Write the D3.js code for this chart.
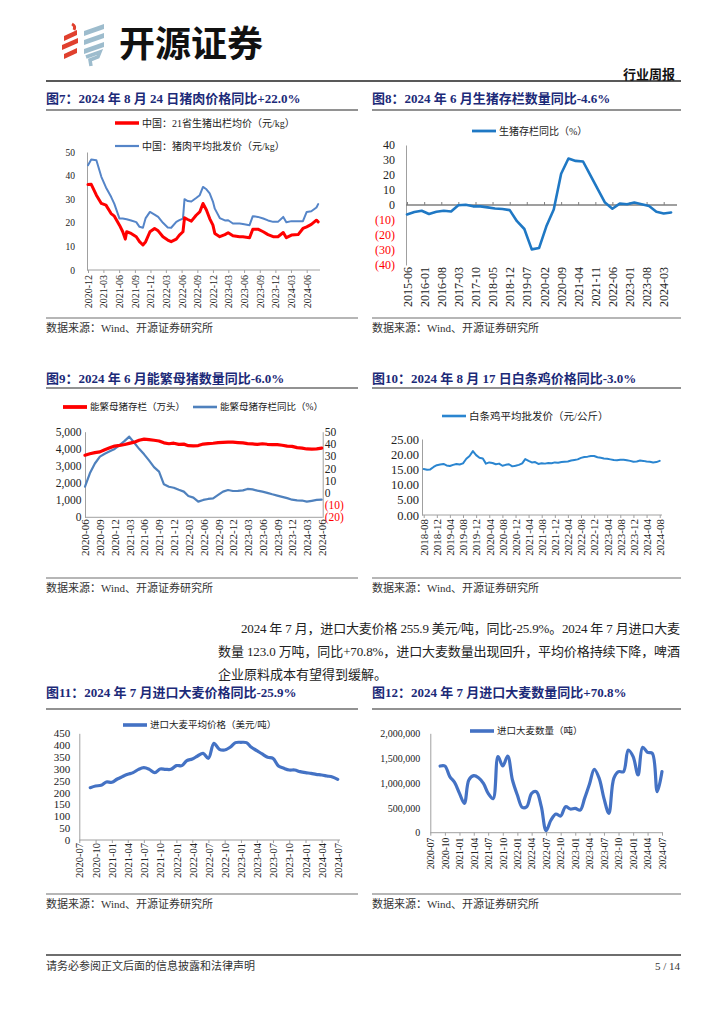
<!DOCTYPE html>
<html>
<head>
<meta charset="utf-8">
<script src="https://cdn.jsdelivr.net/npm/d3@7"></script>
<style>
  body { margin: 0; background: #fff; }
</style>
</head>
<body>
<script>
var parseMonth = d3.timeParse('%Y-%m');
var parseDay = d3.timeParse('%Y-%m-%d');
var fmtMonth = d3.timeFormat('%Y-%m');
var monthRange = function(a, b, step) {
  return d3.timeMonth.range(parseMonth(a), d3.timeMonth.offset(parseMonth(b), 1), step || 1);
};

// ---- 图7 猪肉价格 (元/kg) ----
var porkDates = ['2020-12-01','2020-12-20','2021-01-19','2021-02-17','2021-03-16','2021-04-15','2021-05-04',
  '2021-06-03','2021-06-22','2021-07-07','2021-07-15','2021-08-10','2021-09-09','2021-09-28','2021-10-18',
  '2021-11-03','2021-11-28','2021-12-25','2022-01-15','2022-02-12','2022-03-12','2022-04-01','2022-05-01',
  '2022-05-19','2022-06-09','2022-06-18','2022-07-07','2022-07-28','2022-08-25','2022-09-15','2022-10-04',
  '2022-10-24','2022-11-12','2022-12-01','2022-12-12','2023-01-10','2023-02-09','2023-02-28','2023-03-28',
  '2023-05-06','2023-05-25','2023-07-03','2023-07-22','2023-08-21','2023-09-21','2023-10-19','2023-11-18',
  '2023-12-16','2024-01-16','2024-02-03','2024-03-04','2024-04-12','2024-05-10','2024-06-01','2024-06-28',
  '2024-07-28','2024-08-07'];
var hogPrice = [36.2,36.3,31.7,28.2,27.5,23.9,22.8,19,16.2,13.1,16.2,15.5,14.1,12,10.6,12,16.2,17.6,16.6,14.1,
  12.7,12,13.1,14.8,16.2,22.1,21.4,20.7,23.2,24.6,28.2,25.4,21.8,19,15.5,14.1,15,15.8,14.5,14.1,14.1,13.7,17.3,
  17.3,16.2,15,14.1,14.1,15.9,13.7,14.8,15,17.6,18.3,19.3,21.1,20.4];
var porkWholesale = [44.4,46.8,46.5,39.5,35,31,28,21.8,21.8,21.6,21.5,21,20.3,18.3,17.9,22,24.6,23.5,22.5,20,
  18,17.9,20.4,21.1,21.8,30,29.2,29,30.5,31.7,35.2,34.2,32.5,29,26,22,21,21.1,19.7,19.7,19.5,19,22.8,22.5,21.8,
  21,20.4,20.4,22.5,20.2,20.7,20.7,20.7,24.6,24.9,26.5,27.9];
var porkTicks = monthRange('2020-12', '2024-06', 3);
var porkYTicks = [0, 10, 20, 30, 40, 50];

// ---- 图8 生猪存栏同比 (%) ----
var hogMonths = monthRange('2015-06', '2024-06', 3);
var hogYoy = [-6.3,-4.7,-3.8,-6,-4.5,-3.8,-4.3,-0.2,0.2,-0.9,-0.9,-1.6,-2.3,-2.7,-3.4,-10.8,-16,-29.6,-28.7,
  -14.2,-3,20.8,31,29.4,29,19.7,10.6,1.6,-2.5,0.9,0.5,1.6,0.5,-0.7,-4.5,-5.7,-5];
var hogTicks = monthRange('2015-06', '2024-03', 7);
var hogYTicks = [-40, -30, -20, -10, 0, 10, 20, 30, 40];

// ---- 图9 能繁母猪 ----
var sowMonths = monthRange('2020-06', '2024-06');
var sowStock = [3629,3715,3777,3822,3950,4060,4161,
  4200,4250,4318,4390,4500,4564,4540,4500,4459,4348,4296,4329,
  4261,4274,4185,4177,4192,4277,4298,4324,4362,4379,4394,4390,
  4367,4343,4305,4284,4258,4296,4265,4241,4240,4210,4158,4142,
  4067,4042,3992,3986,3996,4038];
var sowYoy = [5,16,24,29.6,32,34,35.9,
  39,42.5,46,41,36,31.5,26.5,21,17.3,7,5,4.2,
  2.5,1,-2.6,-3.9,-7.2,-5.8,-5,-4.5,-1.7,1,2.3,1.5,
  1.6,2,3.2,2.8,1.8,1,0,-1.2,-2.3,-3.3,-4.3,-5.6,
  -6.1,-6.3,-7.2,-6.5,-5.8,-5.6];
var sowTicks = monthRange('2020-06', '2024-06', 3);
var sowYTicks = [0, 1000, 2000, 3000, 4000, 5000];
var sowRTicks = [-20, -10, 0, 10, 20, 30, 40, 50];

// ---- 图10 白条鸡平均批发价 (元/公斤) ----
var chickenMonths = monthRange('2018-08', '2024-08');
var chickenPrice = [15.1,14.9,15.0,15.8,16.4,
  16.6,16.8,16.3,16.1,16.5,16.8,16.6,17.0,18.5,19.4,21.0,19.7,
  18.8,18.6,16.9,17.3,17.1,16.7,16.9,16.2,16.5,16.7,16.0,16.2,
  16.5,17.0,18.4,17.8,17.3,17.4,16.8,17.0,16.9,17.1,17.0,17.3,
  17.2,17.4,17.5,17.6,17.9,18.1,18.3,18.8,19.1,19.2,19.4,19.4,
  19.0,18.8,18.6,18.5,18.3,18.1,18.0,18.2,18.2,18.0,17.8,17.5,
  17.6,17.9,17.8,17.6,17.5,17.3,17.4,17.8];
var chickenTicks = monthRange('2018-08', '2024-08', 4);
var chickenYTicks = [0, 5, 10, 15, 20, 25];

// ---- 图11/12 进口大麦 ----
var barleyMonths = monthRange('2020-09', '2024-07');
var barleyPrice = [220.8,227.8,230.6,244.7,
  243.3,257.3,267.2,277,284,298,305,298,284,299.5,298,298,
  313.6,313.6,334.7,341.7,354.4,365.6,344.5,407.8,382.5,379.7,391,410.6,
  412,410.6,391,376.9,362.8,348.8,344.5,312.2,302.3,295.3,295.3,288.3,
  284,281.3,277,274.2,270,265.8,255.9];
var barleyVolume = [1342000,1342000,1127000,1013000,
  792000,590000,1060000,1148000,1107000,993000,792000,684000,1530000,1342000,1543000,1060000,
  758000,510000,523000,792000,825000,523000,40000,255000,376000,335000,523000,476000,
  490000,456000,691000,980000,1275000,1094000,691000,389000,1094000,1228000,1228000,1664000,
  1530000,1161000,1718000,1617000,1597000,825000,1230000];
var barleyTicks = monthRange('2020-07', '2024-07', 3);
var barleyPriceTicks = [0, 50, 100, 150, 200, 250, 300, 350, 400, 450];
var barleyVolTicks = [0, 500000, 1000000, 1500000, 2000000];

// ---- page ----
var FONT = "'Liberation Serif','Noto Sans CJK SC',serif";
var AXIS = '#a0a0a0';
var TITLE = '#1c2a78';

var svg = d3.select('body').append('svg')
  .attr('width', 724).attr('height', 1024)
  .attr('font-family', FONT);

var hline = function(x1, x2, y, color, w) {
  svg.append('line').attr('x1', x1).attr('x2', x2).attr('y1', y).attr('y2', y)
    .attr('stroke', color).attr('stroke-width', w);
};

var text = function(x, y, str, size, opts) {
  opts = opts || {};
  return svg.append('text').attr('x', x).attr('y', y).attr('dy', '0.35em')
    .attr('font-size', size)
    .attr('font-weight', opts.bold ? 'bold' : null)
    .attr('fill', opts.fill || '#222')
    .attr('text-anchor', opts.anchor || 'start')
    .text(str);
};

var title = function(x, x2, y, lineY, str) {
  text(x, y, str, 13, {bold: true, fill: TITLE});
  hline(x, x2, lineY, '#6e6e6e', 1.6);
};

var source = function(x, x2, lineY) {
  hline(x, x2, lineY, '#6e6e6e', 1.2);
  text(x, lineY + 10, '数据来源：Wind、开源证券研究所', 11, {fill: '#333'});
};

var legend = function(x, y, color, width, str, size) {
  svg.append('line').attr('x1', x).attr('x2', x + 24).attr('y1', y).attr('y2', y)
    .attr('stroke', color).attr('stroke-width', width);
  text(x + 27, y, str, size);
};

// x axis with vertical month labels
var xAxis = function(x, ticks, y0, from, to, size, gap, tick) {
  var g = svg.append('g').attr('transform', 'translate(0,' + y0 + ')')
    .call(d3.axisBottom(x).tickValues(ticks).tickFormat(fmtMonth).tickSizeInner(tick).tickSizeOuter(0));
  g.attr('font-family', null).attr('font-size', null);
  g.select('.domain').remove();
  g.selectAll('.tick line').attr('stroke', AXIS);
  g.selectAll('.tick text')
    .attr('transform', 'rotate(-90)')
    .attr('x', -gap).attr('y', 0).attr('dy', '0.35em')
    .attr('text-anchor', 'end')
    .attr('font-size', size).attr('fill', '#222');
  if (to > from) {
    g.append('line').attr('x1', from).attr('x2', to).attr('stroke', AXIS);
  }
  return g;
};

var yAxis = function(y, ticks, x0, right, fmt, size, pad) {
  var ax = (right ? d3.axisRight(y) : d3.axisLeft(y))
    .tickValues(ticks).tickFormat(fmt).tickSize(0).tickPadding(pad);
  var g = svg.append('g').attr('transform', 'translate(' + x0 + ',0)').call(ax);
  g.attr('font-family', null).attr('font-size', null);
  g.select('.domain').attr('stroke', AXIS);
  g.selectAll('.tick text').attr('font-size', size)
    .attr('fill', function(d) { return d < 0 ? '#ff0000' : '#222'; });
  return g;
};

var drawLine = function(x, y, dates, values, color, width, curve) {
  svg.append('path').datum(values)
    .attr('fill', 'none').attr('stroke', color).attr('stroke-width', width)
    .attr('stroke-linejoin', 'round').attr('stroke-linecap', 'round')
    .attr('d', d3.line()
      .x(function(d, i) { return x(dates[i]); })
      .y(function(d) { return y(d); })
      .curve(curve || d3.curveLinear));
};

var paren = function(d) { return d < 0 ? '(' + (-d) + ')' : d; };

// header
var logo = svg.append('g');
var redBars = [[64,36,77,30],[62,45,78,38],[64,54,77,48]];
logo.selectAll('.r').data(redBars).enter().append('polygon')
  .attr('fill', '#e0402e')
  .attr('points', function(d) {
    return [d[0], d[1], d[2], d[3], d[2], d[3] + 5, d[0], d[1] + 5].join(' ');
  });
logo.append('path').attr('d', 'M72,24 Q76,26 74,30').attr('stroke', '#e0402e').attr('stroke-width', 3).attr('fill', 'none');
var greyBars = [[84,31,104,24],[84,40,104,33],[84,49,104,42]];
logo.selectAll('.g').data(greyBars).enter().append('polygon')
  .attr('fill', '#9dbccd')
  .attr('points', function(d) {
    return [d[0], d[1], d[2], d[3], d[2], d[3] + 5, d[0], d[1] + 5].join(' ');
  });
logo.append('path').attr('d', 'M86,57 L100,52 L98,57 L90,60 L91,66').attr('stroke', '#9dbccd').attr('stroke-width', 3.5).attr('fill', 'none');
svg.append('text').attr('x', 119).attr('y', 44).attr('dy', '0.35em')
  .attr('font-family', "'Noto Sans CJK SC'").attr('font-weight', 'bold').attr('font-size', 36)
  .attr('fill', '#111').text('开源证券');
text(675, 74, '行业周报', 13, {bold: true, anchor: 'end', fill: '#111'});
hline(46, 681, 81, '#222', 1.6);

// ---- 图7 ----
title(46, 358, 98, 110, '图7：2024 年 8 月 24 日猪肉价格同比+22.0%');
var x7 = d3.scaleTime().domain([porkTicks[0], porkTicks[porkTicks.length - 1]]).range([88, 306.7]);
var y7 = d3.scaleLinear().domain([0, 50]).range([270, 152]);
var porkX = porkDates.map(function(s) { return parseDay(s); });
yAxis(y7, porkYTicks, 87, false, d3.format('d'), 9.5, 12);
xAxis(x7, porkTicks, 270, 87, 320, 10, 5, 3);
drawLine(x7, y7, porkX, porkWholesale, '#5585c8', 2);
drawLine(x7, y7, porkX, hogPrice, '#ff0000', 3);
legend(115, 123, '#ff0000', 3.5, '中国：21省生猪出栏均价（元/kg）', 10);
legend(115, 146, '#5585c8', 2.2, '中国：猪肉平均批发价（元/kg）', 10);
source(46, 358, 318);

// ---- 图8 ----
title(372, 681, 98, 110, '图8：2024 年 6 月生猪存栏数量同比-4.6%');
var x8 = d3.scaleTime().domain([hogTicks[0], hogTicks[hogTicks.length - 1]]).range([407, 663.7]);
var y8 = d3.scaleLinear().domain([-40, 40]).range([265, 145]);
yAxis(y8, hogYTicks, 406, false, paren, 12, 11);
var zero8 = svg.append('g').attr('transform', 'translate(0,' + y8(0) + ')')
  .call(d3.axisTop(x8).tickValues(hogTicks).tickFormat('').tickSizeInner(3).tickSizeOuter(0));
zero8.select('.domain').remove();
zero8.selectAll('.tick line').attr('stroke', '#7f7f7f');
zero8.append('line').attr('x1', 406).attr('x2', 677).attr('stroke', '#7f7f7f').attr('stroke-width', 1.3);
xAxis(x8, hogTicks, 265, 0, 0, 12, 2, 0);
drawLine(x8, y8, hogMonths, hogYoy, '#1f78c4', 2.6);
legend(472, 131, '#1f78c4', 2.8, '生猪存栏同比（%）', 10);
source(372, 681, 318);

// ---- 图9 ----
title(46, 358, 378, 388, '图9：2024 年 6 月能繁母猪数量同比-6.0%');
var x9 = d3.scaleTime().domain([sowTicks[0], sowTicks[sowTicks.length - 1]]).range([85, 321.7]);
var yL9 = d3.scaleLinear().domain([0, 5000]).range([517.3, 431.7]);
var yR9 = d3.scaleLinear().domain([-20, 50]).range([517.3, 431.7]);
yAxis(yL9, sowYTicks, 85, false, d3.format(','), 11.5, 3.5);
yAxis(yR9, sowRTicks, 322.7, true, paren, 11.5, 2);
xAxis(x9, sowTicks, 517.3, 85, 322.7, 11, 2, 0);
drawLine(x9, yR9, sowMonths, sowYoy, '#4f81bd', 2.2);
drawLine(x9, yL9, sowMonths, sowStock, '#ff0000', 3.2);
legend(63, 407, '#ff0000', 3.8, '能繁母猪存栏（万头）', 9.5);
legend(193, 407, '#4f81bd', 2.6, '能繁母猪存栏同比（%）', 9.5);
source(46, 358, 578);

// ---- 图10 ----
title(372, 681, 378, 388, '图10：2024 年 8 月 17 日白条鸡价格同比-3.0%');
var x10 = d3.scaleTime().domain([chickenTicks[0], chickenTicks[chickenTicks.length - 1]]).range([423.7, 659.7]);
var y10 = d3.scaleLinear().domain([0, 25]).range([515, 439]);
yAxis(y10, chickenYTicks, 422, false, d3.format('.2f'), 12.5, 3);
xAxis(x10, chickenTicks, 515, 422, 662, 11, 4, 3);
drawLine(x10, y10, chickenMonths, chickenPrice, '#2a85d0', 2);
legend(442, 416, '#2a85d0', 2.6, '白条鸡平均批发价（元/公斤）', 10.5);
source(372, 681, 578);

// ---- paragraph ----
text(241, 628, '2024 年 7 月，进口大麦价格 255.9 美元/吨，同比-25.9%。2024 年 7 月进口大麦', 13)
  .attr('textLength', 439).attr('lengthAdjust', 'spacing');
text(218, 651, '数量 123.0 万吨，同比+70.8%，进口大麦数量出现回升，平均价格持续下降，啤酒', 13)
  .attr('textLength', 462).attr('lengthAdjust', 'spacing');
text(218, 674, '企业原料成本有望得到缓解。', 13);

// ---- 图11 ----
title(46, 358, 692, 709, '图11：2024 年 7 月进口大麦价格同比-25.9%');
var x11 = d3.scaleTime().domain([barleyTicks[0], barleyTicks[barleyTicks.length - 1]]).range([79.3, 337.7]);
var y11 = d3.scaleLinear().domain([0, 450]).range([840, 733.3]);
yAxis(y11, barleyPriceTicks, 79.3, false, d3.format('d'), 11, 9);
xAxis(x11, barleyTicks, 840, 79.3, 340, 10.5, 3, 3);
drawLine(x11, y11, barleyMonths, barleyPrice, '#4472c4', 3.2, d3.curveCatmullRom.alpha(0.5));
legend(123, 725, '#4472c4', 3.6, '进口大麦平均价格（美元/吨）', 9.5);
source(46, 358, 894);

// ---- 图12 ----
title(372, 681, 692, 709, '图12：2024 年 7 月进口大麦数量同比+70.8%');
var x12 = d3.scaleTime().domain([barleyTicks[0], barleyTicks[barleyTicks.length - 1]]).range([430.3, 662]);
var y12 = d3.scaleLinear().domain([0, 2000000]).range([832.7, 733.3]);
yAxis(y12, barleyVolTicks, 430.3, false, d3.format(','), 10, 10);
xAxis(x12, barleyTicks, 832.7, 430.3, 663, 9.5, 5, 3);
drawLine(x12, y12, barleyMonths, barleyVolume, '#4472c4', 3.2, d3.curveCatmullRom.alpha(0.5));
legend(470, 731, '#4472c4', 3.6, '进口大麦数量（吨）', 9.5);
source(372, 681, 894);

// footer
hline(46, 681, 955, '#6e6e6e', 2);
text(46, 966, '请务必参阅正文后面的信息披露和法律声明', 11, {fill: '#333'});
text(680, 966, '5 / 14', 11, {anchor: 'end', fill: '#333'});
</script>
</body>
</html>
